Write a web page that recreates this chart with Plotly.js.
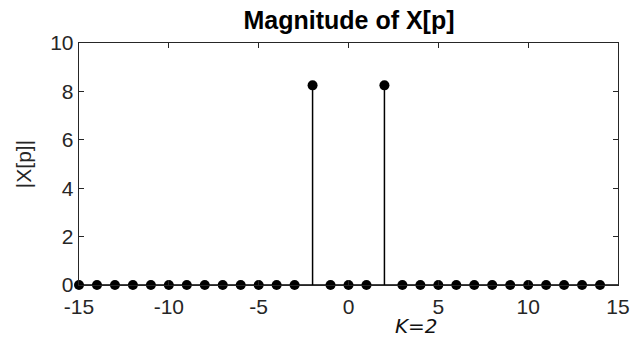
<!DOCTYPE html>
<html>
<head>
<meta charset="utf-8">
<script src="https://cdn.plot.ly/plotly-3.0.1.min.js"></script>
<style>html,body{margin:0;padding:0;background:#fff;}#chart{width:630px;height:339px;}</style>
</head>
<body>
<div id="chart"></div>
<script>
const pIndex = [-15,-14,-13,-12,-11,-10,-9,-8,-7,-6,-5,-4,-3,-2,-1,0,1,2,3,4,5,6,7,8,9,10,11,12,13,14];
const magnitude = [0,0,0,0,0,0,0,0,0,0,0,0,0,8.25,0,0,0,8.25,0,0,0,0,0,0,0,0,0,0,0,0];
const xTicks = [-15,-10,-5,0,5,10,15];
const yTicks = [0,2,4,6,8,10];

const stemX = [], stemY = [];
pIndex.forEach((p, i) => { stemX.push(p, p, null); stemY.push(0, magnitude[i], null); });

const axisColor = '#262626';
const font = {family: 'Liberation Sans, Arial, sans-serif', size: 21, color: '#262626'};

const data = [
  {x: [-15, 15], y: [0, 0], mode: 'lines', line: {color: '#000', width: 1.5}, hoverinfo: 'skip', showlegend: false},
  {x: stemX, y: stemY, mode: 'lines', line: {color: '#000', width: 1.5}, hoverinfo: 'skip', showlegend: false},
  {x: pIndex, y: magnitude, mode: 'markers', marker: {color: '#000', size: 10}, showlegend: false, cliponaxis: false}
];

const layout = {
  width: 630, height: 339,
  margin: {l: 79, r: 12, t: 43, b: 54},
  paper_bgcolor: '#fff', plot_bgcolor: '#fff',
  font: font,
  title: {text: '<b>Magnitude of X[p]</b>', font: {family: 'Liberation Sans, Arial, sans-serif', size: 25, color: '#000'}, x: 0.554, xanchor: 'center', y: 0.94, yanchor: 'middle'},
  xaxis: {
    range: [-15, 15], tickvals: xTicks, ticktext: xTicks.map(String),
    showgrid: false, zeroline: false, showline: true, linecolor: axisColor, linewidth: 1.3, mirror: 'ticks',
    ticks: 'inside', ticklen: 5, tickcolor: axisColor, tickfont: font, ticklabelstandoff: 2
  },
  yaxis: {
    range: [0, 10], tickvals: yTicks, ticktext: yTicks.map(String),
    showgrid: false, zeroline: false, showline: true, linecolor: axisColor, linewidth: 1.3, mirror: 'ticks',
    ticks: 'inside', ticklen: 5, tickcolor: axisColor, tickfont: font,
    title: {text: '|X[p]|', font: font, standoff: 12}
  },
  annotations: [
    {x: 3.8, y: 0, xref: 'x', yref: 'y', yshift: -41, text: '<i>K=2</i>', showarrow: false,
     font: {family: 'DejaVu Sans, sans-serif', size: 20, color: '#111'}}
  ]
};

Plotly.newPlot('chart', data, layout, {displayModeBar: false, staticPlot: true});
</script>
</body>
</html>
